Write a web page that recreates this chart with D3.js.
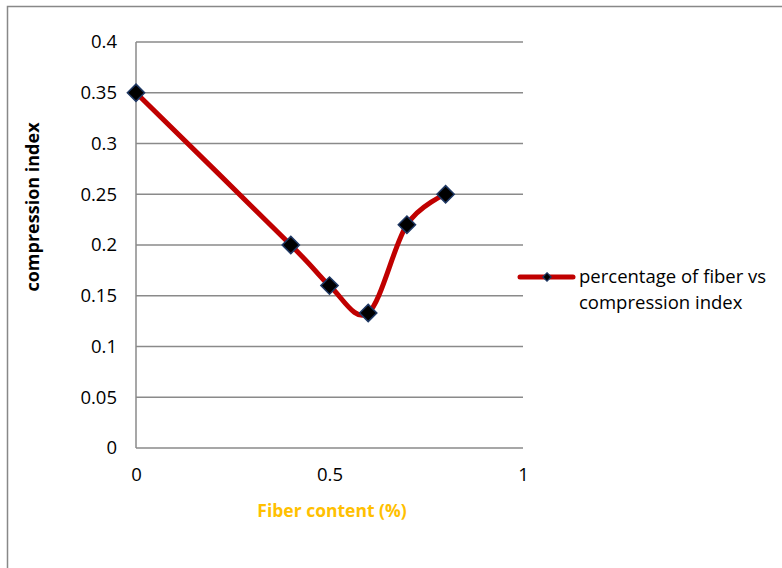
<!DOCTYPE html>
<html><head><meta charset="utf-8">
<script src="https://cdn.jsdelivr.net/npm/d3@7"></script>
<style>
html,body{margin:0;padding:0;background:#fff;}
svg{display:block;}
text{font-family:"Open Sans","Liberation Sans",sans-serif;}
</style></head>
<body>
<svg id="chart" width="782" height="568"></svg>
<script>
const fiberContent = [0, 0.4, 0.5, 0.6, 0.7, 0.8];
const compressionIndex = [0.35, 0.2, 0.16, 0.133, 0.22, 0.25];
const yTicks = [0, 0.05, 0.1, 0.15, 0.2, 0.25, 0.3, 0.35, 0.4];
const xTicks = [0, 0.5, 1];
const seriesName = ["percentage of fiber vs", "compression index"];
const xTitle = "Fiber content (%)";
const yTitle = "compression index";

const FONT = "'Open Sans','Liberation Sans',sans-serif";
const svg = d3.select("#chart");
// outer frame
svg.append("rect").attr("x", 7.5).attr("y", 6.5).attr("width", 800).attr("height", 600)
  .attr("fill", "#fff").attr("stroke", "#888").attr("stroke-width", 1.5);

const x = d3.scaleLinear().domain([0, 1]).range([136, 523]);
const y = d3.scaleLinear().domain([0, 0.4]).range([448, 42]);

// gridlines
svg.append("g").selectAll("line").data(yTicks).join("line")
  .attr("x1", x(0)).attr("x2", x(1))
  .attr("y1", d => y(d)).attr("y2", d => y(d))
  .attr("stroke", "#8a8a8a").attr("stroke-width", 1.5);

// y axis line
svg.append("line").attr("x1", x(0)).attr("x2", x(0)).attr("y1", y(0.4)).attr("y2", y(0))
  .attr("stroke", "#8a8a8a").attr("stroke-width", 1.5);

// y axis labels
const yAxis = d3.axisLeft(y).tickValues(yTicks).tickSize(0).tickPadding(19)
  .tickFormat(d => String(+d.toFixed(2)));
const gy = svg.append("g").attr("transform", `translate(${x(0)},0)`).call(yAxis);
gy.select(".domain").remove();
gy.selectAll("text").attr("font-size", 18.5).attr("fill", "#000").attr("font-family", FONT);

// x axis labels
const xAxis = d3.axisBottom(x).tickValues(xTicks).tickSize(0).tickPadding(20)
  .tickFormat(d => String(d));
const gx = svg.append("g").attr("transform", `translate(0,${y(0)})`).call(xAxis);
gx.select(".domain").remove();
gx.selectAll("text").attr("font-size", 18.5).attr("fill", "#000").attr("font-family", FONT);

// axis titles
svg.append("text").attr("x", 332).attr("y", 517).attr("text-anchor", "middle")
  .attr("font-size", 17.5).attr("font-weight", "bold").attr("fill", "#FFC000").text(xTitle);
svg.append("text").attr("transform", "translate(39,207) rotate(-90)").attr("text-anchor", "middle")
  .attr("font-size", 18).attr("font-weight", "bold").attr("fill", "#000").text(yTitle);

// series
const pts = fiberContent.map((v, i) => [v, compressionIndex[i]]);
const line = d3.line().x(d => x(d[0])).y(d => y(d[1])).curve(d3.curveCatmullRom.alpha(0));
svg.append("path").attr("d", line(pts)).attr("fill", "none")
  .attr("stroke", "#C00000").attr("stroke-width", 5).attr("stroke-linejoin", "round");

const diamond = d3.symbol().type(d3.symbolDiamond2).size(190);
svg.append("g").selectAll("path").data(pts).join("path")
  .attr("transform", d => `translate(${x(d[0])},${y(d[1])})`)
  .attr("d", diamond)
  .attr("fill", "#000").attr("stroke", "#1F3864").attr("stroke-width", 1.5);

// legend
const lg = svg.append("g");
lg.append("line").attr("x1", 520).attr("x2", 573).attr("y1", 277).attr("y2", 277)
  .attr("stroke", "#C00000").attr("stroke-width", 5).attr("stroke-linecap", "round");
lg.append("path").attr("transform", "translate(547,277)")
  .attr("d", d3.symbol().type(d3.symbolDiamond2).size(45))
  .attr("fill", "#000").attr("stroke", "#1F3864").attr("stroke-width", 1.2);
lg.selectAll("text").data(seriesName).join("text")
  .attr("x", 579).attr("y", (d, i) => 283 + i * 26)
  .attr("font-size", 18.5).attr("fill", "#000").text(d => d);
</script>
</body></html>
